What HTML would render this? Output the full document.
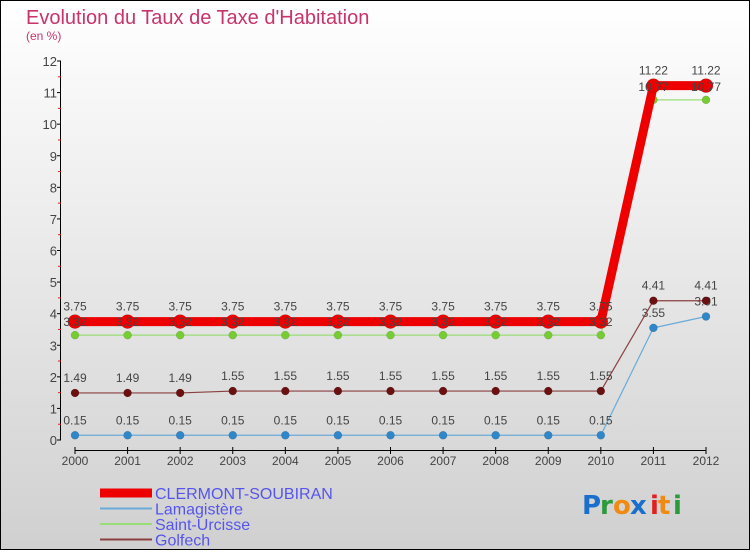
<!DOCTYPE html>
<html><head><meta charset="utf-8"><style>
html,body{margin:0;padding:0}
body{width:750px;height:550px;overflow:hidden;font-family:"Liberation Sans",sans-serif}
</style></head><body>
<svg width="750" height="550" xmlns="http://www.w3.org/2000/svg">
<defs><linearGradient id="bg" x1="0" y1="0" x2="0" y2="1"><stop offset="0" stop-color="#ffffff"/><stop offset="1" stop-color="#d0d0d0"/></linearGradient></defs>
<rect x="0.5" y="0.5" width="749" height="549" fill="url(#bg)" stroke="#000"/>
<text x="26" y="24" font-size="20" fill="#c8336a">Evolution du Taux de Taxe d'Habitation</text>
<text x="26" y="40" font-size="12" fill="#c8336a">(en %)</text>
<g id="axes"></g>
<g id="series"></g>
<g id="legend"></g>
<g font-size="26" font-family="'DejaVu Sans',sans-serif" font-weight="bold">
<text x="582" y="514" fill="#1a6fcc">P</text><text x="600" y="514" fill="#2a9a3a">r</text><text x="613" y="514" fill="#f08a10">o</text><text x="630" y="514" fill="#1a6fcc">x</text><text x="650" y="514" fill="#e02020">i</text><text x="658" y="514" fill="#f08a10">t</text><text x="673" y="514" fill="#2a9a3a">i</text>
</g>
</svg>
<script>
const years=[2000,2001,2002,2003,2004,2005,2006,2007,2008,2009,2010,2011,2012];
const clermont=[3.75,3.75,3.75,3.75,3.75,3.75,3.75,3.75,3.75,3.75,3.75,11.22,11.22];
const lamagistere=[0.15,0.15,0.15,0.15,0.15,0.15,0.15,0.15,0.15,0.15,0.15,3.55,3.91];
const saintUrcisse=[3.32,3.32,3.32,3.32,3.32,3.32,3.32,3.32,3.32,3.32,3.32,10.77,10.77];
const golfech=[1.49,1.49,1.49,1.55,1.55,1.55,1.55,1.55,1.55,1.55,1.55,4.41,4.41];
const yTicks=[0,1,2,3,4,5,6,7,8,9,10,11,12];
const seriesNames=["CLERMONT-SOUBIRAN","Lamagistère","Saint-Urcisse","Golfech"];

const NS="http://www.w3.org/2000/svg";
function X(i){return 75+i*(706-75)/(years.length-1);}
function Y(v){return 440-v*(440-61)/12;}
function mk(tag,attrs,parent,text){const e=document.createElementNS(NS,tag);for(const k in attrs)e.setAttribute(k,attrs[k]);if(text!==undefined)e.textContent=text;parent.appendChild(e);return e;}
const axes=document.getElementById('axes');
let e=mk('line',{x1:60.5,y1:61,x2:60.5,y2:440,stroke:'#000'},axes);


yTicks.forEach(t=>{
  mk('line',{x1:57,y1:Y(t),x2:61,y2:Y(t),stroke:'#000'},axes);
  if(t<12) mk('line',{x1:58,y1:Y(t+0.5),x2:61,y2:Y(t+0.5),stroke:'#e02020'},axes);
  const tx=mk('text',{x:57,y:Y(t)+5,'font-size':13,fill:'#444','text-anchor':'end'},axes,String(t));
  
  
});
e=mk('line',{x1:75,y1:450.5,x2:706,y2:450.5,stroke:'#000'},axes);


years.forEach((yr,i)=>{
  mk('line',{x1:X(i),y1:447,x2:X(i),y2:454,stroke:'#000'},axes);
  const tx=mk('text',{x:X(i),y:465,'font-size':12,fill:'#444','text-anchor':'middle'},axes,String(yr));
  
  
});
const sg=document.getElementById('series');
function draw(vals,color,w,r,mcol,name,labels){
  const g=mk('g',{},sg);
  
  
  mk('polyline',{points:vals.map((v,i)=>X(i)+','+Y(v)).join(' '),fill:'none',stroke:color,'stroke-width':w,'stroke-linejoin':'round'},g);
  vals.forEach((v,i)=>{
    const c=mk('circle',{cx:X(i),cy:Y(v),r:r,fill:mcol,stroke:'rgba(0,0,0,0.2)','stroke-width':0.5},g);
    
    
  });
  if(labels) vals.forEach((v,i)=>{
    const t=mk('text',{x:X(i),y:Y(v)-11,'font-size':12,fill:'#444','text-anchor':'middle'},g,v.toFixed(2).replace(/^(\d+\.\d)0$/,'$1'));
    
    
  });
}
draw(lamagistere,'#6aaad8',1.2,4,'#2f86c8','series-lamagistere',true);
draw(golfech,'#8a4040',1.2,4,'#6a1010','series-golfech',true);
draw(saintUrcisse,'#99dd77',1.2,4,'#77cc33','series-saint-urcisse',false);
draw(clermont,'#ee0000',9,7,'#ee0000','series-clermont-soubiran',true);
// Saint-Urcisse labels drawn on top
saintUrcisse.forEach((v,i)=>{
  const t=mk('text',{x:X(i),y:Y(v)-9,'font-size':12,fill:'#444','text-anchor':'middle'},sg,v.toFixed(2));
  
  
});
const lg=document.getElementById('legend');
const lcols=['#ee0000','#6aaad8','#99dd77','#8a4040'];
const lw=[9,2,2,2];
seriesNames.forEach((n,k)=>{
  const y=493+k*15.5;
  const g=mk('g',{},lg);
  
  
  mk('line',{x1:100,y1:y,x2:152,y2:y,stroke:lcols[k],'stroke-width':lw[k]},g);
  mk('text',{x:155,y:y+6,'font-size':16,fill:'#5555ee'},g,n);
});
</script>
</body></html>
